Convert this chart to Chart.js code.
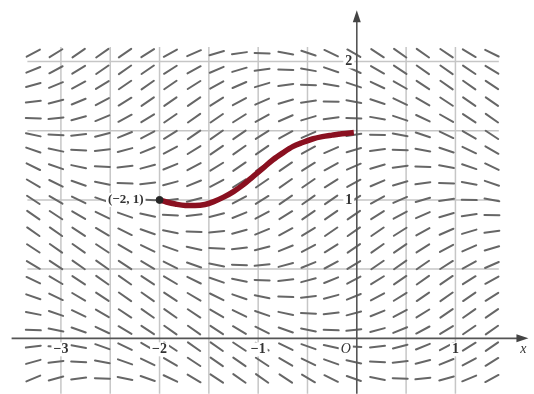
<!DOCTYPE html>
<html>
<head>
<meta charset="utf-8">
<script src="https://cdn.jsdelivr.net/npm/chart.js@4"></script>
<style>
  html, body { margin: 0; padding: 0; background: #fff; }
  canvas { display: block; }
</style>
</head>
<body>
<canvas id="chart" width="534" height="394"></canvas>
<script>
// sample points of the direction field
const fieldX = [-3.28, -3.05, -2.82, -2.58, -2.35, -2.12, -1.89, -1.65, -1.42, -1.19, -0.96,
                -0.72, -0.49, -0.26, -0.03, 0.21, 0.44, 0.67, 0.91, 1.14, 1.37];
const fieldY = [2.06, 1.94, 1.83, 1.71, 1.59, 1.47, 1.36, 1.24, 1.12, 1.00, 0.89,
                0.77, 0.65, 0.53, 0.42, 0.30, 0.18, 0.06, -0.06, -0.17, -0.29];

// slope read at each sample (row = fieldY, column = fieldX)
const slopes = [
  [0.38, 0.44, 0.49, 0.50, 0.49, 0.45, 0.39, 0.31, 0.21, 0.10, -0.02, -0.13, -0.24, -0.34, -0.41, -0.47, -0.50, -0.50, -0.48, -0.43, -0.35],
  [0.29, 0.38, 0.44, 0.49, 0.50, 0.49, 0.45, 0.39, 0.31, 0.21, 0.10, -0.02, -0.13, -0.24, -0.34, -0.41, -0.47, -0.50, -0.50, -0.48, -0.43],
  [0.19, 0.29, 0.38, 0.44, 0.49, 0.50, 0.49, 0.45, 0.39, 0.31, 0.21, 0.10, -0.02, -0.13, -0.24, -0.34, -0.41, -0.47, -0.50, -0.50, -0.48],
  [0.08, 0.19, 0.29, 0.38, 0.44, 0.49, 0.50, 0.49, 0.45, 0.39, 0.31, 0.21, 0.10, -0.02, -0.13, -0.24, -0.34, -0.41, -0.47, -0.50, -0.50],
  [-0.03, 0.08, 0.19, 0.29, 0.38, 0.44, 0.49, 0.50, 0.49, 0.45, 0.39, 0.31, 0.21, 0.10, -0.02, -0.13, -0.24, -0.34, -0.41, -0.47, -0.50],
  [-0.15, -0.03, 0.08, 0.19, 0.29, 0.38, 0.44, 0.49, 0.50, 0.49, 0.45, 0.39, 0.31, 0.21, 0.10, -0.02, -0.13, -0.24, -0.34, -0.41, -0.47],
  [-0.25, -0.15, -0.03, 0.08, 0.19, 0.29, 0.38, 0.44, 0.49, 0.50, 0.49, 0.45, 0.39, 0.31, 0.21, 0.10, -0.02, -0.13, -0.24, -0.34, -0.41],
  [-0.35, -0.25, -0.15, -0.03, 0.08, 0.19, 0.29, 0.38, 0.44, 0.49, 0.50, 0.49, 0.45, 0.39, 0.31, 0.21, 0.10, -0.02, -0.13, -0.24, -0.34],
  [-0.42, -0.35, -0.25, -0.15, -0.03, 0.08, 0.19, 0.29, 0.38, 0.44, 0.49, 0.50, 0.49, 0.45, 0.39, 0.31, 0.21, 0.10, -0.02, -0.13, -0.24],
  [-0.47, -0.42, -0.35, -0.25, -0.15, -0.03, 0.08, 0.19, 0.29, 0.38, 0.44, 0.49, 0.50, 0.49, 0.45, 0.39, 0.31, 0.21, 0.10, -0.02, -0.13],
  [-0.50, -0.47, -0.42, -0.35, -0.25, -0.15, -0.03, 0.08, 0.19, 0.29, 0.38, 0.44, 0.49, 0.50, 0.49, 0.45, 0.39, 0.31, 0.21, 0.10, -0.02],
  [-0.50, -0.50, -0.47, -0.42, -0.35, -0.25, -0.15, -0.03, 0.08, 0.19, 0.29, 0.38, 0.44, 0.49, 0.50, 0.49, 0.45, 0.39, 0.31, 0.21, 0.10],
  [-0.47, -0.50, -0.50, -0.47, -0.42, -0.35, -0.25, -0.15, -0.03, 0.08, 0.19, 0.29, 0.38, 0.44, 0.49, 0.50, 0.49, 0.45, 0.39, 0.31, 0.21],
  [-0.42, -0.47, -0.50, -0.50, -0.47, -0.42, -0.35, -0.25, -0.15, -0.03, 0.08, 0.19, 0.29, 0.38, 0.44, 0.49, 0.50, 0.49, 0.45, 0.39, 0.31],
  [-0.34, -0.42, -0.47, -0.50, -0.50, -0.47, -0.42, -0.35, -0.25, -0.15, -0.03, 0.08, 0.19, 0.29, 0.38, 0.44, 0.49, 0.50, 0.49, 0.45, 0.39],
  [-0.25, -0.34, -0.42, -0.47, -0.50, -0.50, -0.47, -0.42, -0.35, -0.25, -0.15, -0.03, 0.08, 0.19, 0.29, 0.38, 0.44, 0.49, 0.50, 0.49, 0.45],
  [-0.14, -0.25, -0.34, -0.42, -0.47, -0.50, -0.50, -0.47, -0.42, -0.35, -0.25, -0.15, -0.03, 0.08, 0.19, 0.29, 0.38, 0.44, 0.49, 0.50, 0.49],
  [-0.03, -0.14, -0.25, -0.34, -0.42, -0.47, -0.50, -0.50, -0.47, -0.42, -0.35, -0.25, -0.15, -0.03, 0.08, 0.19, 0.29, 0.38, 0.44, 0.49, 0.50],
  [0.09, -0.03, -0.14, -0.25, -0.34, -0.42, -0.47, -0.50, -0.50, -0.47, -0.42, -0.35, -0.25, -0.15, -0.03, 0.08, 0.19, 0.29, 0.38, 0.44, 0.49],
  [0.20, 0.09, -0.03, -0.14, -0.25, -0.34, -0.42, -0.47, -0.50, -0.50, -0.47, -0.42, -0.35, -0.25, -0.15, -0.03, 0.08, 0.19, 0.29, 0.38, 0.44],
  [0.30, 0.20, 0.09, -0.03, -0.14, -0.25, -0.34, -0.42, -0.47, -0.50, -0.50, -0.47, -0.42, -0.35, -0.25, -0.15, -0.03, 0.08, 0.19, 0.29, 0.38]
];

// solution curve through (-2, 1)
const curveX = [-2.00, -1.93, -1.84, -1.74, -1.64, -1.54, -1.45, -1.35, -1.25, -1.15, -1.05,
                -0.95, -0.85, -0.75, -0.65, -0.55, -0.45, -0.35, -0.25, -0.15, -0.03];
const curveY = [1.00, 0.985, 0.97, 0.96, 0.96, 0.967, 0.988, 1.02, 1.06, 1.11, 1.17,
                1.23, 1.29, 1.34, 1.385, 1.415, 1.44, 1.457, 1.468, 1.478, 1.487];
const startPoint = [-2, 1];
const startLabel = '(−2, 1)';

// grid and tick labels
const gridX = [-3, -2.5, -2, -1.5, -1, -0.5, 0.5, 1];
const gridY = [0.5, 1, 1.5, 2];
const xTicks = [-3, -2, -1, 1];
const xTickLabels = ['−3', '−2', '−1', '1'];
const yTicks = [1, 2];
const yTickLabels = ['1', '2'];

const fieldPlugin = {
  id: 'fieldPlugin',
  beforeDatasetsDraw(chart) {
    const { ctx, scales: { x, y } } = chart;
    ctx.save();

    // light grid
    ctx.strokeStyle = '#c6c6c6';
    ctx.lineWidth = 1.5;
    gridX.forEach(v => {
      const px = x.getPixelForValue(v);
      ctx.beginPath();
      ctx.moveTo(px, y.getPixelForValue(2.105));
      ctx.lineTo(px, y.getPixelForValue(-0.4));
      ctx.stroke();
    });
    gridY.forEach(v => {
      const py = y.getPixelForValue(v);
      ctx.beginPath();
      ctx.moveTo(x.getPixelForValue(-3.34), py);
      ctx.lineTo(x.getPixelForValue(1.44), py);
      ctx.stroke();
    });

    // direction segments, fixed length on screen
    const kx = Math.abs(x.getPixelForValue(1) - x.getPixelForValue(0));
    const ky = Math.abs(y.getPixelForValue(1) - y.getPixelForValue(0));
    const half = 7.5;
    ctx.strokeStyle = '#666';
    ctx.lineWidth = 2;
    ctx.lineCap = 'round';
    fieldY.forEach((yv, j) => {
      fieldX.forEach((xv, k) => {
        const ang = Math.atan(slopes[j][k] * ky / kx);
        const cx = x.getPixelForValue(xv);
        const cy = y.getPixelForValue(yv);
        const dx = half * Math.cos(ang), dy = half * Math.sin(ang);
        ctx.beginPath();
        ctx.moveTo(cx - dx, cy + dy);
        ctx.lineTo(cx + dx, cy - dy);
        ctx.stroke();
      });
    });

    // axes with arrow heads
    const x0 = x.getPixelForValue(0), y0 = y.getPixelForValue(0);
    ctx.strokeStyle = '#555';
    ctx.fillStyle = '#444';
    ctx.lineWidth = 1.6;
    ctx.lineCap = 'butt';
    const xEnd = x.getPixelForValue(1.74);
    ctx.beginPath();
    ctx.moveTo(x.getPixelForValue(-3.5), y0);
    ctx.lineTo(xEnd - 8, y0);
    ctx.stroke();
    ctx.beginPath();
    ctx.moveTo(xEnd, y0);
    ctx.lineTo(xEnd - 12, y0 - 4);
    ctx.lineTo(xEnd - 12, y0 + 4);
    ctx.closePath();
    ctx.fill();
    const yEnd = y.getPixelForValue(2.37);
    ctx.beginPath();
    ctx.moveTo(x0, y.getPixelForValue(-0.4));
    ctx.lineTo(x0, yEnd + 8);
    ctx.stroke();
    ctx.beginPath();
    ctx.moveTo(x0, yEnd);
    ctx.lineTo(x0 - 4, yEnd + 12);
    ctx.lineTo(x0 + 4, yEnd + 12);
    ctx.closePath();
    ctx.fill();

    // labels on white patches
    const label = (text, px, py, font, align) => {
      ctx.font = font;
      const w = ctx.measureText(text).width;
      const left = align === 'right' ? px - w : px - w / 2;
      ctx.fillStyle = '#fff';
      ctx.fillRect(left - 2, py - 7, w + 4, 14);
      ctx.fillStyle = '#333';
      ctx.textBaseline = 'middle';
      ctx.textAlign = 'left';
      ctx.fillText(text, left, py);
    };
    const tickFont = 'bold 14px "Liberation Serif", serif';
    const yLab = y0 + 11;
    xTicks.forEach((v, i) => label(xTickLabels[i], x.getPixelForValue(v), yLab, tickFont));
    yTicks.forEach((v, i) => label(yTickLabels[i], x0 - 8, y.getPixelForValue(v), tickFont));
    label('O', x0 - 11, yLab, 'italic 14px "Liberation Serif", serif');
    label('x', x.getPixelForValue(1.69), yLab, 'italic 14px "Liberation Serif", serif');
    label(startLabel, x.getPixelForValue(startPoint[0]) - 16, y.getPixelForValue(startPoint[1]),
          'bold 13px "Liberation Serif", serif', 'right');

    ctx.restore();
  }
};

new Chart(document.getElementById('chart'), {
  type: 'line',
  data: {
    datasets: [
      {
        type: 'scatter',
        data: [{ x: startPoint[0], y: startPoint[1] }],
        pointRadius: 3.5,
        backgroundColor: '#262626',
        borderColor: '#262626'
      },
      {
        data: curveX.map((v, i) => ({ x: v, y: curveY[i] })),
        borderColor: '#8a1020',
        borderWidth: 5.5,
        pointRadius: 0,
        cubicInterpolationMode: 'monotone',
        fill: false
      }
    ]
  },
  options: {
    responsive: false,
    animation: false,
    events: [],
    layout: { padding: 0 },
    plugins: { legend: { display: false }, tooltip: { enabled: false } },
    scales: {
      x: { type: 'linear', display: false, min: -3.567, max: 1.746 },
      y: { type: 'linear', display: false, min: -0.366, max: 2.408 }
    }
  },
  plugins: [fieldPlugin]
});
</script>
</body>
</html>
